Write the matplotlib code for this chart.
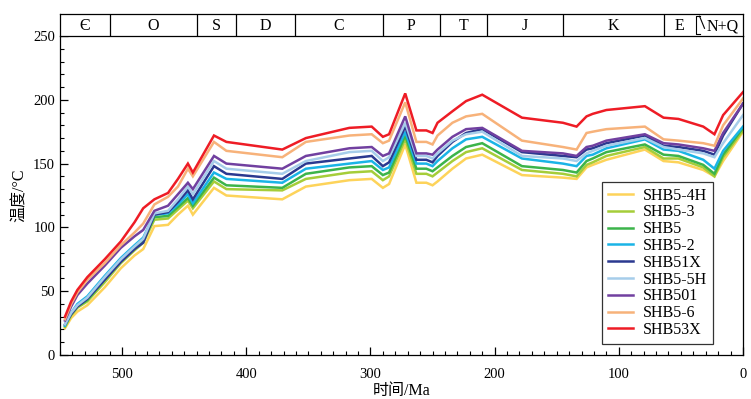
import numpy as np
import matplotlib
matplotlib.use('Agg')
import matplotlib.pyplot as plt

# --------- data ---------

age = [546, 541, 536, 528, 514, 501, 490, 483, 474, 463, 455, 447, 443, 426, 416,
       371, 352, 317, 299, 290, 285, 272, 263, 255, 250, 246, 234, 223, 210, 178,
       145, 134, 126, 121, 110, 79, 64, 52, 32, 23, 16, 0]

shb5_4h = [21, 29, 34, 39, 53, 68, 78, 83, 101, 102, 110, 117, 110, 131, 125,
           122, 132, 137, 138, 131, 134, 165, 135, 135, 133, 136, 146, 154, 157, 141,
           139, 138, 147, 149, 153, 161, 152, 151, 145, 140, 152, 175]
shb5_3 = [22, 31, 37, 42, 57, 72, 82, 88, 106, 107, 114, 121, 115, 136, 130,
          129, 138, 143, 144, 137, 140, 169, 142, 142, 140, 143, 152, 159, 162, 145,
          142, 140, 149, 151, 156, 163, 154, 154, 147, 140, 155, 176]
shb5 = [23, 32, 38, 43, 59, 74, 84, 90, 108, 109, 116, 123, 117, 139, 133,
        131, 142, 147, 148, 141, 143, 172, 146, 146, 144, 147, 156, 163, 166, 148,
        145, 143, 152, 154, 159, 165, 157, 156, 149, 142, 157, 178]
shb5_2 = [23, 33, 40, 46, 62, 76, 86, 92, 110, 111, 118, 126, 119, 143, 138,
          135, 146, 150, 152, 145, 147, 175, 150, 150, 148, 152, 162, 169, 171, 154,
          150, 148, 156, 157, 162, 169, 161, 160, 153, 146, 160, 179]
shb51x = [24, 32, 38, 44, 59, 73, 83, 88, 110, 112, 120, 129, 122, 148, 142,
          138, 150, 154, 156, 148, 151, 179, 153, 153, 151, 156, 167, 174, 177, 159,
          156, 155, 161, 162, 166, 172, 164, 163, 160, 157, 172, 197]
shb5_5h = [24, 33, 39, 45, 61, 75, 85, 91, 111, 113, 122, 132, 126, 152, 146,
           142, 152, 159, 160, 152, 155, 182, 156, 156, 154, 158, 168, 173, 175, 156,
           154, 152, 158, 160, 164, 170, 163, 161, 158, 155, 166, 188]
shb501 = [27, 38, 47, 56, 70, 84, 93, 98, 113, 117, 126, 135, 130, 156, 150,
          146, 156, 162, 163, 156, 158, 187, 158, 158, 157, 161, 171, 177, 178, 160,
          158, 156, 163, 164, 168, 173, 166, 165, 162, 160, 174, 197]
shb5_6 = [28, 40, 49, 59, 72, 86, 96, 103, 118, 124, 132, 146, 140, 167, 160,
          155, 167, 172, 173, 166, 168, 198, 167, 167, 165, 172, 182, 187, 189, 168,
          163, 161, 174, 175, 177, 179, 169, 168, 166, 164, 180, 201]
shb53x = [30, 42, 51, 61, 75, 89, 104, 115, 122, 127, 138, 150, 143, 172, 167,
          161, 170, 178, 179, 171, 173, 205, 176, 176, 174, 182, 191, 199, 204, 186,
          182, 179, 187, 189, 192, 195, 186, 185, 179, 173, 188, 206]

names = ['SHB5-4H', 'SHB5-3', 'SHB5', 'SHB5-2', 'SHB51X', 'SHB5-5H', 'SHB501', 'SHB5-6', 'SHB53X']
series = [shb5_4h, shb5_3, shb5, shb5_2, shb51x, shb5_5h, shb501, shb5_6, shb53x]

# geologic periods (Ma boundaries, old -> young)
period_bounds = [550, 510, 440, 408, 361, 290, 244, 206, 145, 64, 38, 0]
period_names = ['\u0404', 'O', 'S', 'D', 'C', 'P', 'T', 'J', 'K', 'E', 'N+Q']

# --------- plot-params -----------

colors = ['#fdd35a', '#a5cd39', '#3cb44a', '#1ab4e6', '#2b3990',
          '#a6cdea', '#7140a0', '#f7b27a', '#ee1c25']
mylw = 1.8
plt.rcParams['font.family'] = ['Liberation Serif', 'Noto Sans CJK SC']
plt.rcParams['axes.unicode_minus'] = False

W, H = 751, 399
fig = plt.figure(figsize=(W / 100, H / 100), dpi=100)

x0, x1 = 60, 743
y0, y1 = 355, 36
ax = fig.add_axes([x0 / W, 1 - y0 / H, (x1 - x0) / W, (y0 - y1) / H])

for vals, lab, col in zip(series, names, colors):
    ax.plot(age, vals, color=col, lw=mylw, label=lab, solid_joinstyle='miter')

ax.set_xlim(550, 0)
ax.set_ylim(0, 250)
ax.set_xticks(np.arange(500, -1, -100))
ax.set_xticks(np.arange(550, -1, -10), minor=True)
ax.set_yticks(np.arange(0, 251, 50))
ax.set_yticks(np.arange(0, 251, 10), minor=True)
ax.tick_params(which='both', direction='in', top=False, right=False, labelsize=10.5)
ax.tick_params(which='major', length=6, width=0.9)
ax.tick_params(which='minor', length=3, width=0.8)
ax.tick_params(axis='x', pad=9)
for sp in ax.spines.values():
    sp.set_linewidth(0.9)
ax.spines['top'].set_visible(False)

ax.set_xlabel('时间/Ma', fontsize=11.5, labelpad=2)
ax.set_ylabel('温度/°C', fontsize=11.5, labelpad=4)

leg = ax.legend(loc='upper left', bbox_to_anchor=((602 - x0) / (x1 - x0), (y0 - 182) / (y0 - y1)),
                borderaxespad=0, fontsize=11.5, frameon=True, fancybox=False,
                handlelength=1.6, handletextpad=0.6, labelspacing=0.05, borderpad=0.35)
leg.get_frame().set_edgecolor('black')
leg.get_frame().set_linewidth(0.9)

# --------- period strip -----------

sy0, sy1 = 36, 14
sax = fig.add_axes([x0 / W, 1 - sy0 / H, (x1 - x0) / W, (sy0 - sy1) / H])
sax.set_xlim(550, 0)
sax.set_ylim(0, 1)
sax.set_xticks([])
sax.set_yticks([])
for sp in sax.spines.values():
    sp.set_linewidth(0.9)
for b in period_bounds[1:-1]:
    if b == 38:
        continue
    sax.plot([b, b], [0, 1], color='black', lw=0.9)
# bracket at the base of N+Q
sax.plot([35, 38, 38, 35], [0.1, 0.1, 0.9, 0.9], color='black', lw=0.8)
sax.plot([35, 31], [0.9, 0.35], color='black', lw=0.8)
for i, nm in enumerate(period_names):
    xc = 0.5 * (period_bounds[i] + period_bounds[i + 1])
    if nm == 'N+Q':
        xc = 16
    sax.text(xc, 0.45, nm, ha='center', va='center', fontsize=11.5,
             family=['Liberation Serif', 'DejaVu Serif'])

fig.savefig('out.png', dpi=100)
